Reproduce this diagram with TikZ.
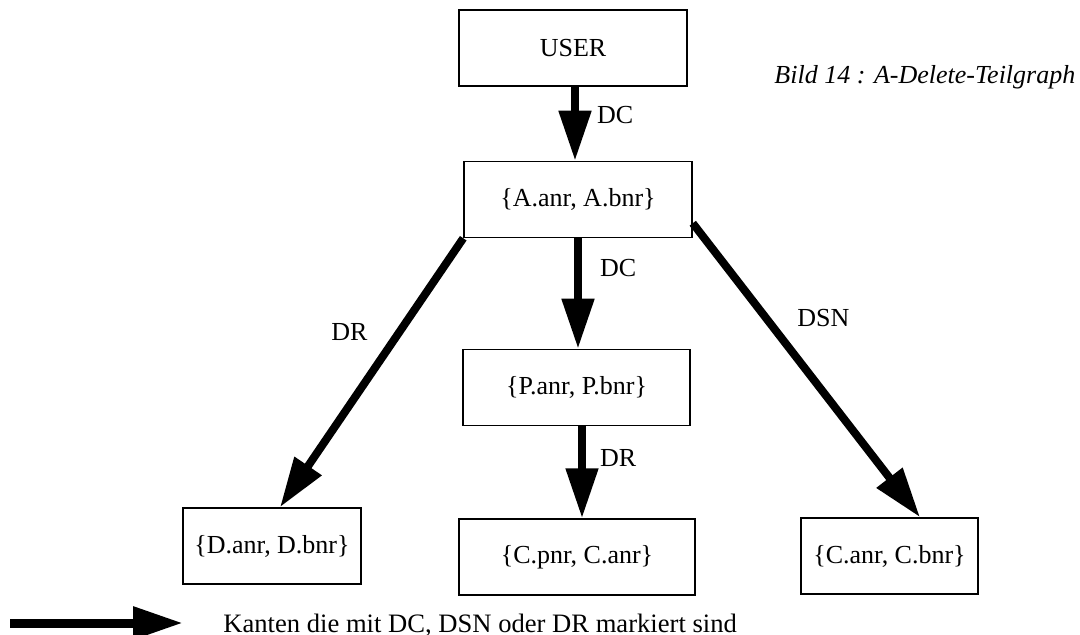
\documentclass[tikz,border=0pt]{standalone}
\usepackage{fontspec}
\setmainfont{Liberation Serif}
\usetikzlibrary{arrows.meta,positioning}

\begin{document}
\begin{tikzpicture}[x=0.5pt, y=-0.5pt,
            font=\fontsize{13pt}{15pt}\selectfont,
            kbox/.style = {shape=rectangle, draw, line width=0.75pt,
                           minimum height=38pt, inner sep=0pt},
            kedge/.style = {line width=4pt,
                            -{Triangle[length=25pt,width=15.5pt]}},
            klabel/.style = {inner sep=0pt}]
    \useasboundingbox (0,0) rectangle (1080,635);
    % Mengen
    \node[kbox, minimum width=114pt] (user) at (573,48) {USER};
    \node[kbox, minimum width=114pt] (aset) at (578,199.5) {\{A.anr, A.bnr\}};
    \node[kbox, minimum width=113.5pt] (pset) at (576.5,387.5) {\{P.anr, P.bnr\}};
    \node[kbox, minimum width=89pt] (dset) at (272,546) {\{D.anr, D.bnr\}};
    \node[kbox, minimum width=118pt] (cpset) at (577,557) {\{C.pnr, C.anr\}};
    \node[kbox, minimum width=88.5pt] (cbset) at (889.5,556) {\{C.anr, C.bnr\}};
    \node[klabel, anchor=base west, font=\fontsize{13pt}{15pt}\selectfont\itshape]
        (title) at (774,84) {Bild 14 : A-Delete-Teilgraph};
    % Kanten
    \draw[kedge] ([xshift=1pt]user.south) -- ([xshift=1pt]user.south |- aset.north)
        node[klabel, pos=0.38, right=9pt] (dcua) {DC};
    \draw[kedge] (aset.south) -- (aset.south |- pset.north)
        node[klabel, pos=0.27, right=9pt] (dcap) {DC};
    \draw[kedge] ([xshift=2.75pt]pset.south) -- ([xshift=2.75pt]pset.south |- cpset.north)
        node[klabel, pos=0.34, right=7pt] (drpc) {DR};
    \draw[kedge] (aset.south west) -- ([xshift=4pt]dset.north)
        node[klabel, pos=0.35, left=13.8pt] (drad) {DR};
    \draw[kedge] ([yshift=7.5pt]aset.south east) -- ([xshift=15.25pt]cbset.north)
        node[klabel, pos=0.324, right=13.5pt] (dsnac) {DSN};
    % Legende
    \coordinate (legtail) at (10,623);
    \coordinate (leghead) at (183,623);
    \draw[kedge, line width=4.5pt] (legtail) -- (leghead);
    \node[klabel, anchor=base west, font=\fontsize{13.3pt}{15pt}\selectfont]
        (legtext) at (223,632) {Kanten die mit DC, DSN oder DR markiert sind};
\end{tikzpicture}
\end{document}
